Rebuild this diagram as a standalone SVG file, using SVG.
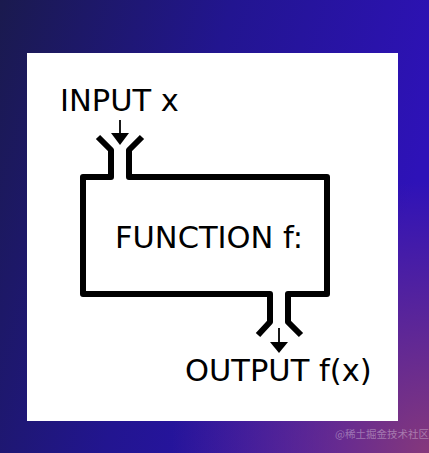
<svg xmlns="http://www.w3.org/2000/svg" width="429" height="453" viewBox="0 0 429 453">
<defs>
<linearGradient id="bg" x1="0" y1="0" x2="1" y2="0.3">
<stop offset="0" stop-color="#1a1a4e"/>
<stop offset="0.5" stop-color="#221590"/>
<stop offset="1" stop-color="#2e12b8"/>
</linearGradient>
<radialGradient id="pink" cx="1" cy="1" r="0.6">
<stop offset="0" stop-color="#8a3a78" stop-opacity="0.95"/>
<stop offset="1" stop-color="#8a3a78" stop-opacity="0"/>
</radialGradient>
<style>
.wall{fill:none;stroke:#000;stroke-width:6;stroke-linejoin:round;stroke-linecap:butt}
.arr{stroke:#000;stroke-width:1.8}
.lbl{font-family:"DejaVu Sans",sans-serif;font-size:30.5px;fill:#000}
</style>
</defs>
<rect width="429" height="453" fill="url(#bg)"/>
<rect width="429" height="453" fill="url(#pink)"/>
<rect x="27" y="53" width="371" height="368" fill="#fff"/>
<g id="function-box">
<path class="wall" d="M98,137 L111,150 L111,177 L83,177 L83,294 L270,294 L270,322 L258,335"/>
<path class="wall" d="M142,137 L129,150 L129,177 L327,177 L327,294 L288,294 L288,322 L301,335"/>
<text class="lbl" x="115" y="248">FUNCTION f:</text>
</g>
<g id="input">
<text class="lbl" x="60" y="111">INPUT x</text>
</g>
<g id="output">
<text class="lbl" x="185" y="381">OUTPUT f(x)</text>
</g>
<g id="connectors">
<line class="arr" x1="120" y1="120" x2="120" y2="134"/>
<polygon points="111,133 129,133 120,145" fill="#000"/>
<line class="arr" x1="279" y1="328" x2="279" y2="343"/>
<polygon points="270,342 288,342 279,353" fill="#000"/>
</g>
<text x="335" y="438" font-family="'Noto Sans CJK SC',sans-serif" font-size="10.5" fill="#ffffff" fill-opacity="0.35">@稀土掘金技术社区</text>
</svg>
